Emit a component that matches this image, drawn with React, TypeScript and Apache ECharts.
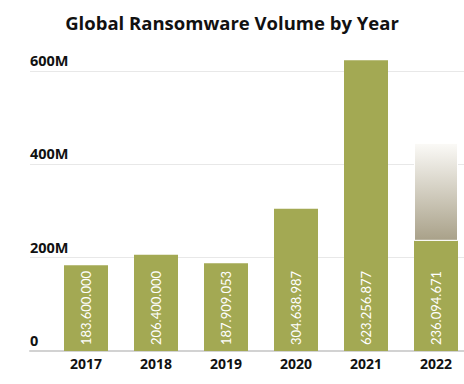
import React, { useEffect, useRef } from "react";
import * as echarts from "echarts";

const years = ["2017", "2018", "2019", "2020", "2021", "2022"];
const volumes = [183600000, 206400000, 187909053, 304638987, 623256877, 236094671];
const projection = [null, null, null, null, null, 210000000];
const yTicks = [0, 200000000, 400000000, 600000000];

const fmtDots = (v: number) => String(Math.round(v)).replace(/\B(?=(\d{3})+(?!\d))/g, ".");
const FONT = "'Open Sans', 'DejaVu Sans', sans-serif";

export default function App() {
  const ref = useRef<HTMLDivElement>(null);
  useEffect(() => {
    const chart = echarts.init(ref.current!, undefined, { renderer: "svg" });
    const yMax = yTicks[yTicks.length - 1];
    const yInt = yTicks[1] - yTicks[0];
    chart.setOption({
      animation: false,
      title: {
        text: "Global Ransomware Volume by Year",
        left: "center",
        top: 8,
        textStyle: { fontFamily: FONT, fontSize: 18.5, fontWeight: "bold", color: "#111" },
      },
      grid: [
        { left: 30, right: 0, top: 71, bottom: 33 },
        { left: 86, right: 28, top: 71, bottom: 33 },
      ],
      xAxis: [
        {
          gridIndex: 0,
          type: "value",
          min: 0,
          max: 1,
          axisLabel: { show: false },
          axisTick: { show: false },
          splitLine: { show: false },
          axisLine: { show: true, lineStyle: { color: "#d2d2d2", width: 2 } },
        },
        {
          gridIndex: 1,
          type: "category",
          boundaryGap: false,
          data: years,
          axisLine: { show: false },
          axisTick: { show: false },
          axisLabel: { color: "#111", fontFamily: FONT, fontSize: 14, fontWeight: "bold", margin: 5 },
        },
      ],
      yAxis: [
        {
          gridIndex: 0,
          type: "value",
          min: 0,
          max: yMax,
          interval: yInt,
          axisLine: { show: false },
          axisTick: { show: false },
          splitLine: { lineStyle: { color: "#e8e8e8", width: 1 } },
          axisLabel: {
            inside: true,
            margin: 0,
            verticalAlign: "bottom",
            padding: [0, 0, 3, 0],
            color: "#111",
            fontFamily: FONT,
            fontSize: 14.5,
            fontWeight: "bold",
            formatter: (v: number) => (v === 0 ? "0" : v / 1e6 + "M"),
          },
        },
        { gridIndex: 1, type: "value", min: 0, max: yMax, show: false },
      ],
      series: [
        {
          type: "bar",
          xAxisIndex: 1,
          yAxisIndex: 1,
          stack: "a",
          data: volumes,
          barWidth: 44,
          clip: false,
          itemStyle: { color: "#a3a953" },
          label: {
            show: true,
            position: "insideBottom",
            rotate: 90,
            align: "left",
            verticalAlign: "middle",
            distance: 6,
            color: "#fff",
            fontFamily: "Lato, 'Open Sans', sans-serif",
            fontSize: 13,
            formatter: (p: any) => fmtDots(p.value),
          },
        },
        {
          type: "bar",
          xAxisIndex: 1,
          yAxisIndex: 1,
          stack: "a",
          data: projection,
          barWidth: 44,
          clip: false,
          itemStyle: {
            borderColor: "#fff",
            borderWidth: 1,
            color: new echarts.graphic.LinearGradient(0, 0, 0, 1, [
              { offset: 0, color: "#fbfaf7" },
              { offset: 1, color: "#a9a189" },
            ]),
          },
        },
      ],
    });
    return () => chart.dispose();
  }, []);
  return <div ref={ref} style={{ position: "fixed", left: 0, top: 0, width: 464, height: 384, background: "#fff" }} />;
}
